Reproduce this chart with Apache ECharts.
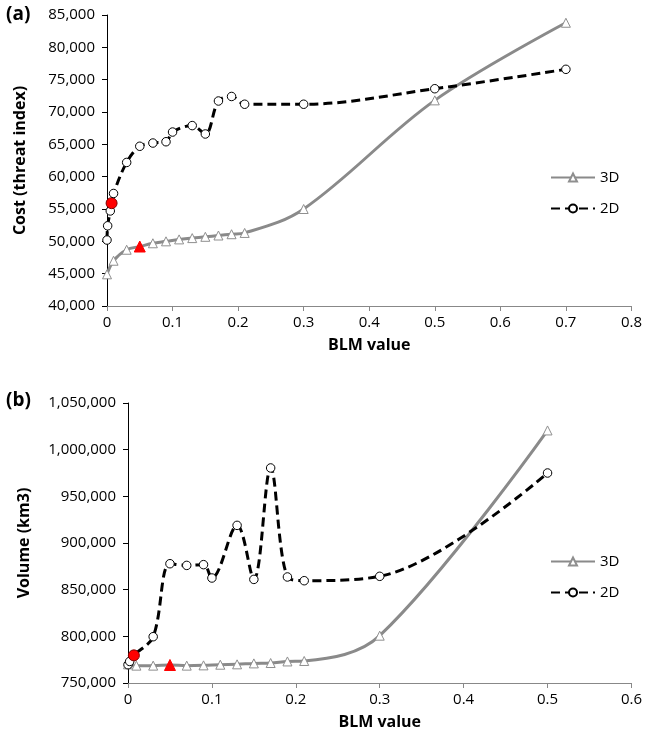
<!DOCTYPE html>
<html>
<head>
    <meta charset="utf-8">
    <title>BLM value</title>
    <script src="https://cdn.jsdelivr.net/npm/echarts@6/dist/echarts.min.js"></script>
    <style>
        body { margin: 0; background: #fff; }
        #chart1 { width: 645px; height: 740px; }
    </style>
</head>
<body>
<div id="chart1"></div>
<script type="text/javascript">
    // (a) cost vs BLM
    var blm2dA = [0, 0.001, 0.005, 0.007, 0.01, 0.03, 0.05, 0.07, 0.09, 0.1, 0.13, 0.15, 0.17, 0.19, 0.21, 0.3, 0.5, 0.7];
    var cost2d = [50200, 52400, 54700, 55900, 57400, 62200, 64700, 65200, 65400, 66900, 67900, 66600, 71700, 72400, 71200, 71200, 73600, 76600];
    var blm3dA = [0, 0.01, 0.03, 0.05, 0.07, 0.09, 0.11, 0.13, 0.15, 0.17, 0.19, 0.21, 0.3, 0.5, 0.7];
    var cost3d = [44900, 47000, 48700, 49200, 49700, 50000, 50300, 50500, 50700, 50900, 51100, 51300, 55000, 71800, 83800];
    var red2dA = 3, red3dA = 3;

    // (b) volume vs BLM
    var blm2dB = [0, 0.002, 0.007, 0.03, 0.05, 0.07, 0.09, 0.1, 0.13, 0.15, 0.17, 0.19, 0.21, 0.3, 0.5];
    var vol2d = [769600, 773100, 779600, 799600, 877800, 876000, 876800, 862500, 918900, 861000, 980400, 863600, 859600, 864300, 975000];
    var blm3dB = [0, 0.01, 0.03, 0.05, 0.07, 0.09, 0.11, 0.13, 0.15, 0.17, 0.19, 0.21, 0.3, 0.5];
    var vol3d = [770000, 768600, 768600, 769300, 768600, 768900, 769600, 770000, 771000, 771400, 773100, 773600, 800700, 1020600];
    var red2dB = 2, red3dB = 3;

    var seriesNames = ['3D', '2D'];

    var FONT = 'Open Sans';
    var myChart1 = echarts.init(document.getElementById('chart1'));

    function pairs(xs, ys, redIdx, isCircle) {
        return xs.map(function (x, i) {
            var item = {value: [x, ys[i]]};
            if (i === redIdx) {
                item.symbolSize = 11;
                item.itemStyle = {color: '#ff0000', borderColor: isCircle ? '#800000' : '#ff0000', borderWidth: 1};
                item.z = 10;
            }
            return item;
        });
    }

    function line3d(idx, xs, ys, redIdx) {
        return {
            name: '3D', type: 'line', xAxisIndex: idx, yAxisIndex: idx,
            smooth: 0.35, data: pairs(xs, ys, redIdx, false),
            symbol: 'triangle', symbolSize: 9,
            lineStyle: {color: '#8a8a8a', width: 3},
            itemStyle: {color: '#ffffff', borderColor: '#8f8f8f', borderWidth: 1},
            emphasis: {disabled: true}
        };
    }

    function line2d(idx, xs, ys, redIdx) {
        return {
            name: '2D', type: 'line', xAxisIndex: idx, yAxisIndex: idx,
            smooth: 0.35, data: pairs(xs, ys, redIdx, true),
            symbol: 'circle', symbolSize: 8.5,
            lineStyle: {color: '#000000', width: 3, type: [9, 5]},
            itemStyle: {color: '#ffffff', borderColor: '#000000', borderWidth: 1},
            emphasis: {disabled: true}
        };
    }

    function xAx(idx, max, gap) {
        return {
            type: 'value', gridIndex: idx, min: 0, max: max, interval: 0.1,
            name: 'BLM value', nameLocation: 'middle', nameGap: gap,
            nameTextStyle: {fontFamily: FONT, fontWeight: 'bold', fontSize: 16, color: '#000'},
            axisLine: {lineStyle: {color: '#888888', width: 1}},
            axisTick: {show: true, length: 5, lineStyle: {color: '#888888'}},
            axisLabel: {fontFamily: FONT, fontSize: 15, color: '#000', margin: 9,
                formatter: function (v) { return +v.toFixed(1) + ''; }},
            splitLine: {show: false}
        };
    }

    function yAx(idx, min, max, step, title, gap) {
        return {
            type: 'value', gridIndex: idx, min: min, max: max, interval: step,
            name: title, nameLocation: 'middle', nameGap: gap, nameRotate: 90,
            nameTextStyle: {fontFamily: FONT, fontWeight: 'bold', fontSize: 16, color: '#000'},
            axisLine: {show: true, lineStyle: {color: '#000000', width: 1}},
            axisTick: {show: true, length: 5, lineStyle: {color: '#000000'}},
            axisLabel: {fontFamily: FONT, fontSize: 15, color: '#000', margin: 12,
                formatter: function (v) { return v.toLocaleString('en-US'); }},
            splitLine: {show: false}
        };
    }

    function legendAt(top) {
        return {
            data: seriesNames, orient: 'vertical', left: 545, top: top,
            itemWidth: 44, itemHeight: 10, itemGap: 16,
            textStyle: {fontFamily: FONT, fontSize: 15, color: '#000'},
            selectedMode: false
        };
    }

    myChart1.setOption({
        animation: false,
        backgroundColor: '#ffffff',
        grid: [
            {left: 107, right: 12, top: 15, height: 291},
            {left: 128, right: 12, top: 403, height: 280}
        ],
        xAxis: [xAx(0, 0.8, 31), xAx(1, 0.6, 31)],
        yAxis: [
            yAx(0, 40000, 85000, 5000, 'Cost (threat index)', 79),
            yAx(1, 750000, 1050000, 50000, 'Volume (km3)', 96)
        ],
        legend: [legendAt(165), legendAt(549)],
        graphic: [
            {type: 'text', left: 6, top: 5, style: {text: '(a)', font: 'bold 19px "Open Sans"', fill: '#000'}},
            {type: 'text', left: 6, top: 391, style: {text: '(b)', font: 'bold 19px "Open Sans"', fill: '#000'}}
        ],
        series: [
            line3d(0, blm3dA, cost3d, red3dA),
            line2d(0, blm2dA, cost2d, red2dA),
            line3d(1, blm3dB, vol3d, red3dB),
            line2d(1, blm2dB, vol2d, red2dB)
        ]
    });
</script>
</body>
</html>
